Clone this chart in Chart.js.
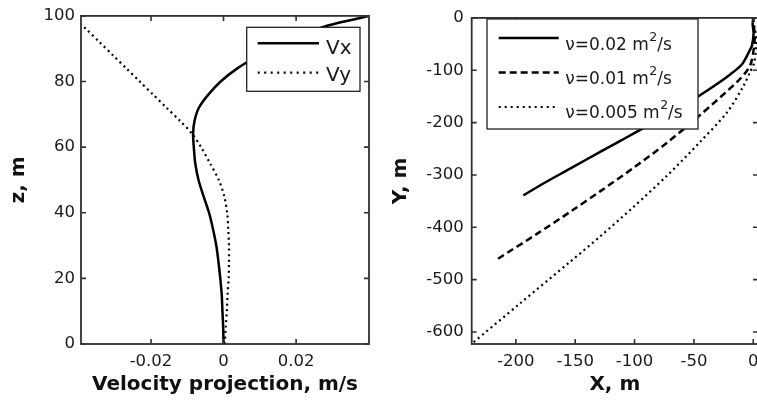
<!DOCTYPE html>
<html>
<head>
<meta charset="utf-8">
<script src="https://cdn.jsdelivr.net/npm/chart.js@4.4.1/dist/chart.umd.min.js"></script>
<style>
  html, body { margin: 0; padding: 0; background: #fff; overflow: hidden; width: 757px; height: 403px; }
  canvas { position: absolute; top: 0; }
  #profile { left: 0; }
  #plan { left: 380px; }
</style>
</head>
<body>
<canvas id="profile" width="380" height="403"></canvas>
<canvas id="plan" width="387" height="403"></canvas>
<script>
// ---- Vertical profile of the velocity projections ----
const depthZ = [0, 5, 10, 15, 20, 25, 30, 35, 40, 45, 50, 55, 60, 64, 68, 72, 76, 80, 84, 88, 92, 96, 98, 100];
const velX = [0, -0.0001, -0.0003, -0.0005, -0.0009, -0.0014, -0.0020, -0.0029, -0.0040, -0.0055, -0.0069, -0.0078,
              -0.0082, -0.0084, -0.0080, -0.0068, -0.0042, -0.0008, 0.0038, 0.0098, 0.0168, 0.0258, 0.0320, 0.0403];
const velY = [0.0003, 0.0006, 0.0009, 0.0011, 0.0014, 0.0015, 0.0015, 0.0013, 0.0010, 0.0002, -0.0013, -0.0037,
              -0.0062, -0.0086, -0.0120, -0.0157, -0.0194, -0.0231, -0.0268, -0.0305, -0.0342, -0.0379, -0.0398, -0.0416];
const profileLabels = ['Vx', 'Vy'];
const profileTicksX = [-0.02, 0, 0.02];
const profileTicksZ = [0, 20, 40, 60, 80, 100];

// ---- Plan view of the trajectories for three viscosities ----
const viscLabels = ['ν=0.02 m²/s', 'ν=0.01 m²/s', 'ν=0.005 m²/s'];
const trackX1 = [-193.7, -175, -154.3, -129, -112, -101, -85, -70, -58, -47.5, -33, -19.4, -10, -5.3, -2.5, -1.1, 0.3, -0.5, 0];
const trackY1 = [-339, -314, -288, -256, -235, -221, -201, -182, -166.5, -151.5, -130, -108, -90, -72.5, -60, -53, -30, -12, 0];
const trackX2 = [-215, -182, -154, -129, -101, -72.5, -44.7, -13.5, -5, -1.7, 0.8, 1.2, 0.3, 0];
const trackY2 = [-460, -412.2, -370.2, -331.4, -286.6, -238.2, -185.4, -122, -100, -85, -53, -30, -12, 0];
const trackX3 = [-239, -196.5, -154.3, -129, -101.2, -72.5, -44.7, -21.9, -8.4, -3, 0.8, 2.5, 2, 0.5, 0];
const trackY3 = [-626, -545.5, -465.9, -417.6, -361.7, -301.1, -236.7, -179.9, -130.7, -105, -85, -53, -30, -12, 0];
const planTicksX = [-200, -150, -100, -50, 0];
const planTicksY = [0, -100, -200, -300, -400, -500, -600];

Chart.defaults.font.family = "'DejaVu Sans', 'Liberation Sans', sans-serif";
Chart.defaults.color = '#1a1a1a';

const toPoints = (xs, ys) => xs.map((x, i) => ({ x: x, y: ys[i] }));

// Axis box with inward tick marks on all four sides, then a boxed legend.
const framePlugin = {
  id: 'frameAndLegend',
  afterDatasetsDraw(chart, args, opts) {
    const ctx = chart.ctx;
    const a = chart.chartArea;
    const sx = chart.scales.x, sy = chart.scales.y;
    const tl = 5;
    ctx.save();
    ctx.strokeStyle = '#303030';
    ctx.lineWidth = 1.6;
    ctx.beginPath();
    sx.ticks.forEach(t => {
      const px = sx.getPixelForValue(t.value);
      ctx.moveTo(px, a.bottom); ctx.lineTo(px, a.bottom - tl);
      ctx.moveTo(px, a.top); ctx.lineTo(px, a.top + tl);
    });
    sy.ticks.forEach(t => {
      const py = sy.getPixelForValue(t.value);
      ctx.moveTo(a.left, py); ctx.lineTo(a.left + tl, py);
      ctx.moveTo(a.right, py); ctx.lineTo(a.right - tl, py);
    });
    ctx.stroke();
    ctx.lineWidth = 1.8;
    ctx.strokeRect(a.left, a.top, a.right - a.left, a.bottom - a.top);

    // legend
    const lg = opts.legend;
    ctx.fillStyle = '#ffffff';
    ctx.fillRect(lg.box[0], lg.box[1], lg.box[2] - lg.box[0], lg.box[3] - lg.box[1]);
    ctx.lineWidth = 1.3;
    ctx.strokeStyle = '#222';
    ctx.strokeRect(lg.box[0], lg.box[1], lg.box[2] - lg.box[0], lg.box[3] - lg.box[1]);
    chart.data.datasets.forEach((ds, i) => {
      const ly = lg.lineY[i];
      ctx.save();
      ctx.strokeStyle = ds.borderColor;
      ctx.lineWidth = ds.borderWidth;
      ctx.setLineDash(ds.legendDash || ds.borderDash || []);
      ctx.beginPath();
      ctx.moveTo(lg.lineX[0], ly);
      ctx.lineTo(lg.lineX[1], ly);
      ctx.stroke();
      ctx.restore();
      // label, with the "²" set as a raised figure
      ctx.fillStyle = '#1a1a1a';
      ctx.textBaseline = 'alphabetic';
      ctx.textAlign = 'left';
      const font = lg.fontSize + "px 'DejaVu Sans', sans-serif";
      const supFont = lg.supSize + "px 'DejaVu Sans', sans-serif";
      const parts = ds.label.split('²');
      let x = lg.textX;
      const base = lg.baseline[i];
      ctx.font = font;
      ctx.fillText(parts[0], x, base);
      x += ctx.measureText(parts[0]).width;
      if (parts.length > 1) {
        ctx.font = supFont;
        ctx.fillText('2', x + 0.5, base - lg.supRaise);
        x += ctx.measureText('2').width + 0.5;
        ctx.font = font;
        ctx.fillText(parts[1], x, base);
      }
    });
    ctx.restore();
  }
};

function axisConf(min, max, tickList, title, isX, size, padding, titlePad) {
  return {
    type: 'linear',
    min: min,
    max: max,
    afterBuildTicks: s => { s.ticks = tickList.map(v => ({ value: v })); },
    afterFit: s => { if (isX) { s.height = size; } else { s.width = size; } },
    ticks: {
      callback: v => String(v),
      font: { size: 16.5 },
      color: '#1a1a1a',
      padding: padding,
      autoSkip: false,
      maxRotation: 0
    },
    grid: { display: false, drawTicks: false },
    border: { display: false },
    title: {
      display: true,
      text: title,
      color: '#111',
      font: { size: 20, weight: 'bold' },
      padding: titlePad
    }
  };
}

new Chart(document.getElementById('profile'), {
  type: 'scatter',
  data: {
    datasets: [
      { label: profileLabels[0], data: toPoints(velX, depthZ), showLine: true, borderColor: '#000', borderWidth: 2.5,
        pointRadius: 0, tension: 0.3, clip: 0 },
      { label: profileLabels[1], data: toPoints(velY, depthZ), showLine: true, borderColor: '#000', borderWidth: 2.2,
        borderDash: [2, 3.5], legendDash: [2, 4.5], pointRadius: 0, tension: 0.3, clip: 0 }
    ]
  },
  options: {
    responsive: false,
    animation: false,
    devicePixelRatio: 1,
    layout: { padding: { left: 0, top: 15, right: 11, bottom: 0 } },
    scales: {
      x: axisConf(-0.0393, 0.0401, profileTicksX, 'Velocity projection, m/s', true, 59, 8, { top: 0, bottom: 6 }),
      y: axisConf(0, 100, profileTicksZ, 'z, m', false, 81, 6, { top: 7, bottom: 0 })
    },
    plugins: {
      legend: { display: false },
      tooltip: { enabled: false },
      frameAndLegend: {
        legend: { box: [246.7, 27.3, 360, 91.3], lineX: [257.7, 319], lineY: [43.3, 72.7], textX: 326,
                  baseline: [53.5, 80.5], fontSize: 20, supSize: 14, supRaise: 10 }
      }
    }
  },
  plugins: [framePlugin]
});

new Chart(document.getElementById('plan'), {
  type: 'scatter',
  data: {
    datasets: [
      { label: viscLabels[0], data: toPoints(trackX1, trackY1), showLine: true, borderColor: '#000', borderWidth: 2.5,
        pointRadius: 0, tension: 0.3, clip: 0 },
      { label: viscLabels[1], data: toPoints(trackX2, trackY2), showLine: true, borderColor: '#000', borderWidth: 2.5,
        borderDash: [7, 4], pointRadius: 0, tension: 0.3, clip: 0 },
      { label: viscLabels[2], data: toPoints(trackX3, trackY3), showLine: true, borderColor: '#000', borderWidth: 2.2,
        borderDash: [2, 3.5], legendDash: [2, 4], pointRadius: 0, tension: 0.3, clip: 0 }
    ]
  },
  options: {
    responsive: false,
    animation: false,
    devicePixelRatio: 1,
    layout: { padding: { left: 0, top: 15, right: 9, bottom: 0 } },
    scales: {
      x: axisConf(-237.2, 4, planTicksX, 'X, m', true, 59, 8, { top: 0, bottom: 6 }),
      y: axisConf(-623, 0, planTicksY, 'Y, m', false, 91.7, 8, { top: 9, bottom: 0 })
    },
    plugins: {
      legend: { display: false },
      tooltip: { enabled: false },
      frameAndLegend: {
        legend: { box: [107, 19, 318, 129], lineX: [118.7, 178.7], lineY: [38, 72.5, 107], textX: 185.3,
                  baseline: [50, 84, 118], fontSize: 17, supSize: 12.5, supRaise: 9.4 }
      }
    }
  },
  plugins: [framePlugin]
});
</script>
</body>
</html>
